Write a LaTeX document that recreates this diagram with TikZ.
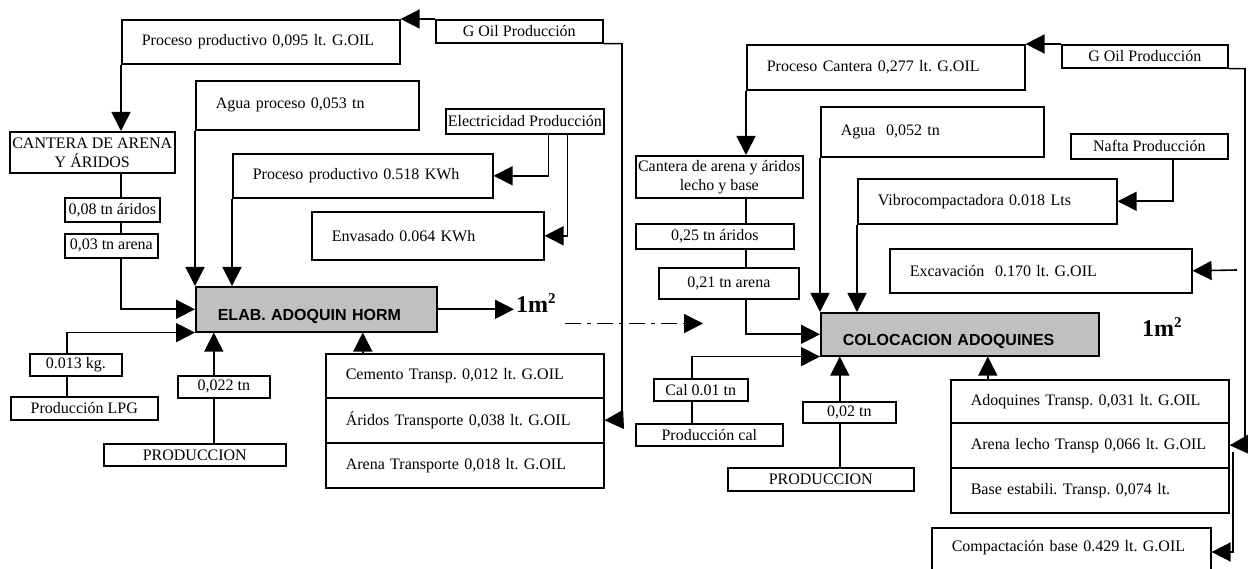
\documentclass[tikz,border=0pt]{standalone}
\usepackage{fontspec}
\setmainfont{Liberation Serif}
\setsansfont{Liberation Sans}
\usetikzlibrary{arrows.meta,calc}
\definecolor{procgray}{RGB}{192,192,192}
\newcommand\myfs{\fontsize{16}{19}\selectfont}
\tikzset{
  lbox/.style n args={3}{draw, line width=1.6pt, anchor=north west, minimum width=#1pt, minimum height=#2pt,
    text width=#3pt, inner xsep=20pt, inner ysep=0pt, align=left, font=\myfs},
  cbox/.style 2 args={draw, line width=1.6pt, anchor=north west, minimum width=#1pt, minimum height=#2pt,
    inner xsep=2pt, inner ysep=0pt, align=center, font=\myfs},
  pbox/.style n args={3}{draw, fill=procgray, line width=1.6pt, anchor=north west, minimum width=#1pt, minimum height=#2pt,
    text width=#3pt, inner xsep=22pt, inner ysep=0pt, align=left, text height=27pt, text depth=4pt,
    font=\fontsize{16}{19}\selectfont\sffamily\bfseries},
  arr/.style={line width=1.6pt, -{Triangle[length=19pt,width=19pt]}},
  ln/.style={line width=1.6pt},
  mlabel/.style={font=\fontsize{24}{28}\selectfont\bfseries, inner sep=2pt, anchor=west},
}
\begin{document}
\frenchspacing
\begin{tikzpicture}[x=1pt,y=-1pt]
\fill[white] (0,0) rectangle (1248,569);
\useasboundingbox (0,0) rectangle (1248,569);

% ---------- left part ----------
\node[lbox={278}{44}{238}] (ppg) at (121,19) {Proceso productivo 0,095 lt. G.OIL};
\node[cbox={167}{23}] (goilL) at (435,19) {G Oil Producción};
\node[lbox={223}{49}{183}] (agua1) at (195,80) {Agua proceso 0,053 tn};
\node[cbox={157}{25}] (elec) at (445,108) {Electricidad Producción};
\node[lbox={260}{44}{220}] (ppk) at (232,153) {Proceso productivo 0.518 KWh};
\node[lbox={232}{48}{192}] (env) at (311,211) {Envasado 0.064 KWh};
\node[cbox={165}{41}] (cant1) at (9,131) {CANTERA DE ARENA\\Y ÁRIDOS};
\node[cbox={95}{24}] (ar08) at (64,197) {0,08 tn áridos};
\node[cbox={93}{24}] (ar03) at (64,233) {0,03 tn arena};
\node[pbox={241}{45}{197}] (elab) at (195,286) {ELAB. ADOQUIN HORM};
\node[cbox={92}{22}] (kg) at (29,353) {0.013 kg.};
\node[cbox={147}{23}] (lpg) at (10,396) {Producción LPG};
\node[cbox={92}{22}] (tn022) at (177,375) {0,022 tn};
\node[cbox={182}{22}] (prod1) at (103,443) {PRODUCCION};
\node[lbox={278}{44}{238}] (st1) at (325,353) {Cemento Transp. 0,012 lt. G.OIL};
\node[lbox={278}{45}{238}] (st2) at (325,397) {Áridos Transporte 0,038 lt. G.OIL};
\node[lbox={278}{45}{238}] (st3) at (325,442) {Arena Transporte 0,018 lt. G.OIL};
\node[mlabel] (m2a) at (514,303) {1m\raisebox{9pt}{\fontsize{15}{15}\selectfont\bfseries 2}};

% ---------- right part ----------
\node[lbox={278}{45}{238}] (pc) at (746,44) {Proceso Cantera 0,277 lt. G.OIL};
\node[cbox={166}{23}] (goilR) at (1061,44) {G Oil Producción};
\node[lbox={223}{50}{183}] (agua2) at (820,106) {Agua\ \ 0,052 tn};
\node[cbox={157}{25}] (nafta) at (1070,133) {Nafta Producción};
\node[lbox={259}{45}{219}] (vibro) at (857,178) {Vibrocompactadora 0.018 Lts};
\node[lbox={302}{44}{262}] (exc) at (889,248) {Excavación\ \ 0.170 lt. G.OIL};
\node[cbox={167}{42}] (cant2) at (635,155) {Cantera de arena y áridos\\lecho y base};
\node[cbox={158}{25}] (ar25) at (635,223) {0,25 tn áridos};
\node[cbox={140}{31}] (ar21) at (658,267) {0,21 tn arena};
\node[pbox={278}{43}{234}] (col) at (820,312) {COLOCACION ADOQUINES};
\node[cbox={94}{22}] (cal) at (653,378) {Cal 0.01 tn};
\node[cbox={147}{22}] (pcal) at (635,423) {Producción cal};
\node[cbox={93}{21}] (tn02) at (802,401) {0,02 tn};
\node[cbox={186}{23}] (prod2) at (727,467) {PRODUCCION};
\node[lbox={278}{43}{238}] (r1) at (950,379) {Adoquines Transp. 0,031 lt. G.OIL};
\node[lbox={278}{45}{238}] (r2) at (950,422) {Arena lecho Transp 0,066 lt. G.OIL};
\node[lbox={278}{45}{238}] (r3) at (950,467) {Base estabili. Transp. 0,074 lt.};
\node[lbox={279}{60}{239}, text height=16pt, text depth=28pt] (comp) at (931,527) {Compactación base 0.429 lt. G.OIL};
\node[mlabel] (m2b) at (1140,327) {1m\raisebox{9pt}{\fontsize{15}{15}\selectfont\bfseries 2}};

% ---------- left connectors ----------
\draw[arr] (goilL.north west) -- (ppg.north east);
\coordinate (cL) at (622,419.5);
\draw[arr] (goilL.south east) -| (cL) -- (st2.east);
\draw[arr] (ppg.south west) -- (ppg.south west |- cant1.north);
\draw[ln] (ppg.south west |- cant1.south) -- (ppg.south west |- ar08.north);
\draw[ln] (ppg.south west |- ar08.south) -- (ppg.south west |- ar03.north);
\draw[arr] (ppg.south west |- ar03.south) |- (elab.west);
\draw[arr] ([xshift=-9pt]kg.north) |- (elab.south west);
\draw[ln] ([xshift=-9pt]kg.south) -- ([xshift=-9pt]kg.south |- lpg.north);
\draw[arr] ([xshift=-10pt]tn022.north) -- ([xshift=-10pt]tn022.north |- elab.south);
\draw[ln] ([xshift=-10pt]tn022.south) -- ([xshift=-10pt]tn022.south |- prod1.north);
\draw[arr] (agua1.south west) -- (agua1.south west |- elab.north);
\draw[arr] (ppk.south west) -- (ppk.south west |- elab.north);
\draw[arr] ([xshift=23.5pt]elec.south) |- (ppk.east);
\draw[arr] ([xshift=42.5pt]elec.south) |- (env.east);
\draw[arr] ([xshift=-102pt]st1.north) -- ([xshift=-102pt]st1.north |- elab.south);
\draw[arr] (elab.east) -- (elab.east -| m2a.west);
\coordinate (d0) at (565,323.5);
\coordinate (d1) at (703,323.5);
\draw[arr, dash pattern=on 16pt off 6pt on 4pt off 6pt] (d0) -- (d1);

% ---------- right connectors ----------
\draw[arr] (goilR.north west) -- (pc.north east);
\coordinate (cR) at (1245,444.5);
\draw[arr] (goilR.south east) -| (cR) -- (r2.east);
\coordinate (ex0) at (1237,270);
\draw[arr] (ex0) -- (exc.east);
\coordinate (cc0) at (1233,452);
\draw[arr] (cc0) |- ([yshift=-25pt]comp.north east);
\draw[arr] (pc.south west) -- (pc.south west |- cant2.north);
\draw[ln] (pc.south west |- cant2.south) -- (pc.south west |- ar25.north);
\draw[ln] (pc.south west |- ar25.south) -- (pc.south west |- ar21.north);
\draw[arr] (pc.south west |- ar21.south) |- (col.west);
\draw[arr] (agua2.south west) -- (agua2.south west |- col.north);
\draw[arr] (vibro.south west) -- (vibro.south west |- col.north);
\draw[arr] ([xshift=23.5pt]nafta.south) |- (vibro.east);
\draw[arr] ([xshift=-9pt]cal.north) |- (col.south west);
\draw[ln] ([xshift=-9pt]cal.south) -- ([xshift=-9pt]cal.south |- pcal.north);
\draw[arr] ([xshift=-9.5pt]tn02.north) -- ([xshift=-9.5pt]tn02.north |- col.south);
\draw[ln] ([xshift=-9.5pt]tn02.south) -- ([xshift=-9.5pt]tn02.south |- prod2.north);
\draw[arr] ([xshift=-102pt]r1.north) -- ([xshift=-102pt]r1.north |- col.south);
\end{tikzpicture}
\end{document}
